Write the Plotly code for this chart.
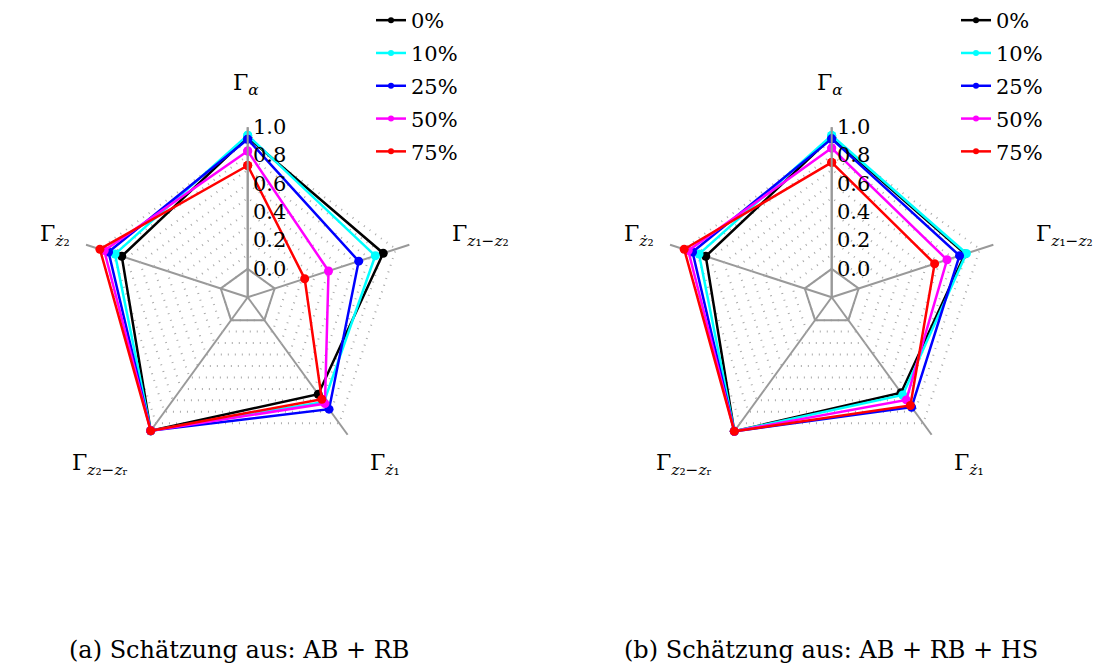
import plotly.graph_objects as go

W, H = 1104, 666

axes = ["Ga", "Gz1z2", "Gzd1", "Gz2zr", "Gzd2"]
axis_labels = ["Γ<sub><i>α</i></sub>",
               "Γ<sub><i>z</i>₁−<i>z</i>₂</sub>",
               "Γ<sub><i>ż</i>₁</sub>",
               "Γ<sub><i>z</i>₂−<i>z</i>ᵣ</sub>",
               "Γ<sub><i>ż</i>₂</sub>"]
series_names = ["0%", "10%", "25%", "50%", "75%"]
colors = ["#000000", "#00ffff", "#0000ff", "#ff00ff", "#ff0000"]

# (a) Schätzung aus: AB + RB
a_0 = [0.93, 0.806, 0.647, 0.965, 0.735]
a_10 = [0.944, 0.747, 0.715, 0.965, 0.785]
a_25 = [0.916, 0.624, 0.777, 0.965, 0.833]
a_50 = [0.832, 0.400, 0.728, 0.965, 0.865]
a_75 = [0.730, 0.223, 0.690, 0.965, 0.897]

# (b) Schätzung aus: AB + RB + HS
b_0 = [0.93, 0.790, 0.633, 0.970, 0.735]
b_10 = [0.942, 0.800, 0.653, 0.970, 0.785]
b_25 = [0.918, 0.749, 0.760, 0.970, 0.833]
b_50 = [0.853, 0.656, 0.696, 0.970, 0.865]
b_75 = [0.752, 0.564, 0.745, 0.970, 0.895]

grid_vals = [0.0, 0.1, 0.2, 0.3, 0.4, 0.5, 0.6, 0.7, 0.8, 0.9, 1.0]
grid_text = ["0.0", "", "0.2", "", "0.4", "", "0.6", "", "0.8", "", "1.0"]
r_range = [-0.2, 1.0]

captions = ["(a) Schätzung aus: AB + RB", "(b) Schätzung aus: AB + RB + HS"]

FONT = "DejaVu Serif"
FS = 21
GRAY = "#999999"

# layout geometry (pixels)
centers = [(247.7, 295.0), (831.7, 295.0)]
caption_x = [239.0, 831.0]
RADIUS = 171.0
label_place = [(-2, -214, "center"), (202, -62, "left"), (120, 168, "left"),
               (-118, 168, "right"), (-176, -62, "right")]

fig = go.Figure()

panels = [("polar", "legend", [a_0, a_10, a_25, a_50, a_75]),
          ("polar2", "legend2", [b_0, b_10, b_25, b_50, b_75])]

for pname, lname, data in panels:
    # solid inner pentagon at r = 0
    fig.add_trace(go.Scatterpolar(
        r=[0] * (len(axes) + 1), theta=axes + axes[:1], mode="lines",
        line=dict(color=GRAY, width=2), showlegend=False, hoverinfo="skip",
        subplot=pname))
    for nm, col, vals in zip(series_names, colors, data):
        fig.add_trace(go.Scatterpolar(
            r=vals + vals[:1], theta=axes + axes[:1], mode="lines+markers",
            name=nm, line=dict(color=col, width=2.5),
            marker=dict(color=col, size=9), subplot=pname, showlegend=False))
    # legend entries with small markers like the reference
    for nm, col in zip(series_names, colors):
        fig.add_trace(go.Scatterpolar(
            r=[None], theta=[None], mode="lines+markers", name=nm,
            line=dict(color=col, width=2.5), marker=dict(color=col, size=6),
            subplot=pname, legend=lname, legendgroup=lname + nm,
            hoverinfo="skip"))

polar_common = dict(
    bgcolor="white",
    gridshape="linear",
    radialaxis=dict(range=r_range, tickvals=grid_vals, ticktext=grid_text,
                    angle=90, tickangle=90, side="clockwise",
                    showline=True, linecolor=GRAY, linewidth=2,
                    gridcolor="#aaaaaa", griddash="1px,6px", gridwidth=1.5,
                    ticks="", tickfont=dict(family=FONT, size=FS, color="black")),
    angularaxis=dict(type="category", categoryarray=axes, direction="clockwise",
                     rotation=90, showticklabels=False, ticks="",
                     showline=False, gridcolor=GRAY, gridwidth=2),
)

layout = dict(width=W, height=H, margin=dict(l=0, r=0, t=0, b=0),
              paper_bgcolor="white", plot_bgcolor="white", showlegend=True)

annotations = []
for k, (cx, cy) in enumerate(centers):
    dom_x = [(cx - RADIUS) / W, (cx + RADIUS) / W]
    dom_y = [1 - (cy + RADIUS) / H, 1 - (cy - RADIUS) / H]
    key = "polar" if k == 0 else "polar2"
    layout[key] = dict(domain=dict(x=dom_x, y=dom_y), **polar_common)
    for lab, (dx, dy, xa) in zip(axis_labels, label_place):
        annotations.append(dict(text=lab, x=(cx + dx) / W, y=1 - (cy + dy) / H,
                                xref="paper", yref="paper", xanchor=xa,
                                yanchor="middle", showarrow=False,
                                font=dict(family=FONT, size=FS + 1, color="black")))
    annotations.append(dict(text=captions[k], x=caption_x[k] / W, y=1 - 650 / H,
                            xref="paper", yref="paper", xanchor="center",
                            yanchor="middle", showarrow=False,
                            font=dict(family=FONT, size=24, color="black")))

legend_common = dict(font=dict(family=FONT, size=FS, color="black"),
                     bgcolor="rgba(255,255,255,0)", tracegroupgap=2.5,
                     xanchor="left", yanchor="top", itemclick=False,
                     itemdoubleclick=False)
layout["legend"] = dict(x=371 / W, y=1 + 4 / H, **legend_common)
layout["legend2"] = dict(x=956 / W, y=1 + 4 / H, **legend_common)
layout["annotations"] = annotations

fig.update_layout(**layout)
fig.write_html("out.html", config={"displayModeBar": False},
               post_script="document.body.style.margin='0px';")
